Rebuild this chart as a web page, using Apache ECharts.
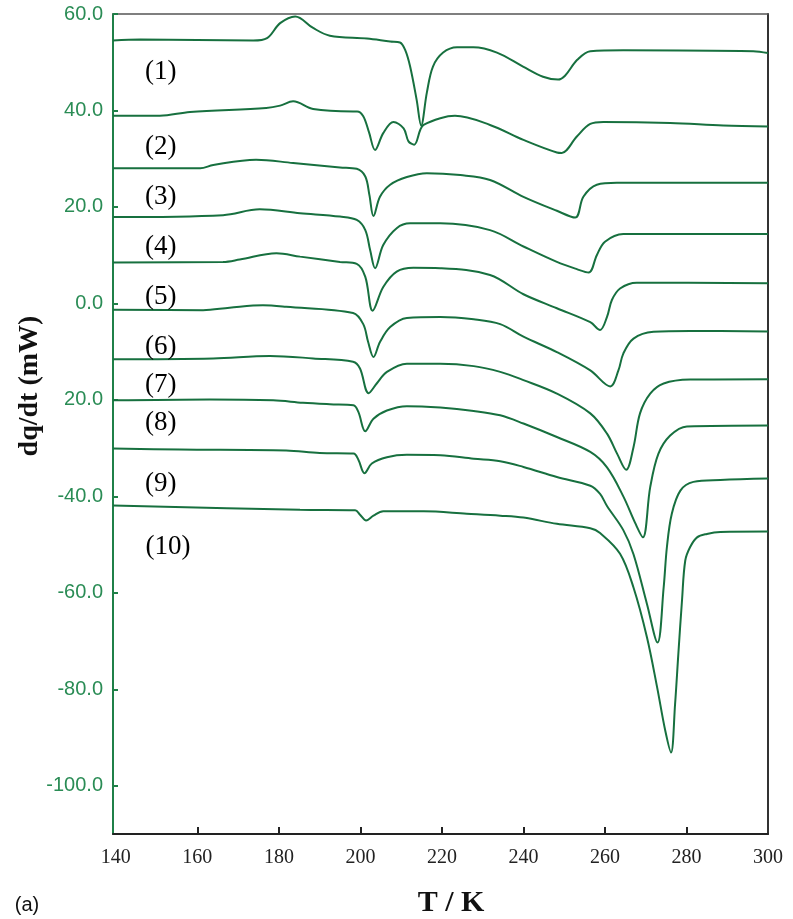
<!DOCTYPE html>
<html>
<head>
<meta charset="utf-8">
<script src="https://cdn.jsdelivr.net/npm/echarts@6/dist/echarts.min.js"></script>
<style>
  html, body { margin: 0; padding: 0; background: #fff; }
  #chart { width: 793px; height: 919px; }
</style>
</head>
<body>
<div id="chart"></div>
<script>
// DSC curves, [T (K), dq/dt (mW)]
const curve1 = [[139.3, 54.5], [146, 54.7], [173.7, 54.5], [177.1, 55.0], [180.3, 58.1], [184, 59.5], [188.4, 57.1], [192.5, 55.5], [201.6, 54.9], [207.3, 54.3], [209.7, 54.1], [211, 52.5], [212.2, 49.1], [213.8, 42.2], [214.9, 36.9], [216.3, 43.7], [217.8, 49.1], [220.3, 52.0], [223.7, 53.1], [227.7, 53.1], [233.5, 52.0], [239.9, 49.1], [244.8, 47.0], [248.5, 46.4], [250.2, 47.2], [253.2, 50.5], [256.4, 52.3], [264.5, 52.5], [296.4, 52.3], [300, 51.9]]
const curve2 = [[139.3, 38.9], [150.8, 38.9], [158.2, 39.7], [176.9, 40.5], [180.3, 41.0], [183.5, 41.9], [188.4, 40.3], [198.2, 39.8], [199.2, 39.8], [200.7, 38.8], [202.1, 35.5], [203.6, 31.8], [205.6, 35.3], [208.1, 37.6], [210.6, 36.3], [211.8, 33.6], [213.2, 32.9], [214.7, 36.0], [215.5, 37.0], [219.6, 38.4], [223.2, 38.9], [231.8, 37.0], [240, 33.9], [248.2, 31.3], [249.4, 31.2], [253.1, 34.6], [256.4, 37.2], [259.6, 37.6], [276, 37.4], [289, 36.9], [300, 36.7]]
const curve3 = [[139.3, 28.0], [160.7, 28.0], [163.9, 28.7], [174.4, 29.8], [183.5, 29.1], [195, 28.2], [199.1, 27.9], [201.2, 26.3], [202.2, 22.5], [203.2, 18.1], [204.8, 22.1], [207.3, 24.6], [211.4, 26.2], [216.3, 27.0], [224.5, 26.6], [231.8, 25.6], [240, 22.1], [248.2, 19.2], [252.7, 17.8], [254.7, 22.1], [258, 24.6], [262.9, 25.0], [300, 25.0]]
const curve4 = [[139.3, 17.9], [166.3, 18.3], [175.3, 19.5], [185.2, 18.7], [195, 18.0], [199.1, 17.3], [201.2, 15.2], [202.4, 11.0], [203.6, 7.3], [205.6, 12.1], [208.9, 15.6], [212.2, 16.6], [219.6, 16.6], [231.8, 15.2], [240, 11.8], [248.2, 8.6], [253.1, 7.1], [256, 6.4], [258, 10.0], [260, 12.8], [264.5, 14.4], [300, 14.4]]
const curve5 = [[139.3, 8.5], [166.3, 8.6], [170.4, 9.1], [179.4, 10.4], [185.2, 9.7], [195, 8.6], [199.1, 8.2], [201.2, 5.5], [203, -1.5], [205.6, 3.4], [208.9, 6.6], [213, 7.4], [219.6, 7.3], [231.8, 5.9], [240, 1.9], [248.2, -1.0], [256.4, -3.9], [258.8, -5.5], [260.5, -2.8], [261.7, 0.7], [263.7, 3.1], [267.8, 4.3], [300, 4.2]]
const curve6 = [[139.3, -1.3], [161.4, -1.4], [167.9, -0.9], [176.1, -0.4], [181.8, -0.7], [198.2, -2.0], [200.7, -4.3], [201.9, -8.0], [203.2, -11.1], [204.8, -8.0], [207.3, -4.9], [211.4, -3.0], [219.6, -2.8], [227.8, -3.3], [234.3, -4.3], [240, -6.9], [248.2, -10.1], [256.4, -13.9], [261.3, -17.2], [263.3, -13.9], [264.5, -10.4], [267, -7.3], [271.9, -5.9], [280.9, -5.7], [300, -5.8]]
const curve7 = [[139.3, -11.6], [163.9, -11.4], [177.8, -10.9], [188.4, -11.4], [198.2, -12.1], [199.9, -13.5], [202, -18.6], [204, -16.6], [206.5, -14.2], [211.4, -12.5], [219.6, -12.5], [227.8, -13.0], [234.3, -14.2], [240, -15.9], [248.2, -18.7], [256.4, -22.8], [260.5, -27.0], [263, -31.2], [265.2, -34.5], [267, -29.8], [268.6, -22.8], [271.1, -18.7], [274.4, -16.6], [280.9, -15.8], [300, -15.7]]
const curve8 = [[139.3, -20.1], [163, -19.9], [178.6, -20.1], [185.9, -20.6], [192.5, -20.9], [198.3, -21.1], [199.5, -22.5], [201.2, -26.5], [203.2, -23.9], [206.5, -22.2], [211.4, -21.3], [219.6, -21.6], [227.8, -22.3], [234.3, -23.2], [240, -24.9], [248.2, -27.7], [256.4, -30.8], [260.5, -34.0], [264.5, -40.0], [267.4, -45.5], [269.3, -48.5], [271.1, -38.1], [273.1, -31.2], [276, -27.4], [280.1, -25.5], [300, -25.3]]
const curve9 = [[139.3, -30.1], [155.7, -30.3], [181.8, -30.5], [190, -31.0], [198.3, -31.1], [199.5, -32.4], [201, -35.2], [202.8, -33.2], [206.5, -31.9], [211.4, -31.4], [219.6, -31.5], [227.8, -32.2], [234.3, -32.7], [240, -33.9], [248.2, -36.0], [256.4, -37.8], [258.8, -39.5], [260.5, -42.0], [264.5, -47.0], [267, -52.0], [270.3, -62.3], [272.9, -70.3], [274.4, -58.9], [275.2, -50.5], [276.4, -43.6], [278.5, -38.8], [281.7, -37.0], [288.3, -36.6], [300, -36.3]]
const curve10 = [[139.3, -41.9], [185.2, -42.8], [198.7, -42.9], [199.9, -43.8], [201.4, -45.0], [203.2, -44.0], [205.6, -43.1], [215.5, -43.1], [226.1, -43.6], [234.3, -44.0], [240, -44.4], [248.2, -45.7], [256.4, -46.6], [258.8, -47.6], [263.7, -51.9], [267, -58.9], [270.3, -69.2], [272.8, -79.6], [274.8, -88.6], [276.2, -93.1], [277.2, -83.1], [278, -72.7], [278.9, -61.6], [279.7, -53.3], [280.9, -50.5], [282.6, -48.5], [285, -47.8], [288.3, -47.4], [300, -47.3]]

const curves = [curve1, curve2, curve3, curve4, curve5, curve6, curve7, curve8, curve9, curve10]

// curve labels and where they sit (data coords)
const labelNames = ['(1)', '(2)', '(3)', '(4)', '(5)', '(6)', '(7)', '(8)', '(9)', '(10)']
const labelPos = [[151, 48.0], [151, 32.5], [151, 22.1], [151, 11.7], [151, 1.4], [151, -9.1], [151, -16.8], [151, -24.7], [151, -37.5], [152.8, -50.4]]

// axis ticks as printed (the -20 tick is printed as "20.0" in the original)
const yTickValues = [-100, -80, -60, -40, -20, 0, 20, 40, 60]
const yTickLabels = ['-100.0', '-80.0', '-60.0', '-40.0', '20.0', '0.0', '20.0', '40.0', '60.0']
const xTickValues = [140, 160, 180, 200, 220, 240, 260, 280, 300]
const xInnerTicks = [160, 180, 200, 220, 240, 260, 280]

const lineColor = '#17703f'
const labelGreen = '#2a8c55'

const chart = echarts.init(document.getElementById('chart'))

const series = curves.map((c, i) => ({
  name: labelNames[i],
  type: 'line',
  data: c,
  showSymbol: false,
  smooth: 0.35,
  lineStyle: { color: lineColor, width: 2 },
  z: 3
}))

series.push({
  type: 'scatter',
  data: labelPos.map((p, i) => ({ value: p, name: labelNames[i] })),
  symbolSize: 1,
  itemStyle: { color: 'rgba(255,255,255,0)' },
  label: {
    show: true,
    position: 'inside',
    formatter: p => p.name,
    fontFamily: 'Liberation Serif',
    fontSize: 27,
    color: '#000',
    opacity: 1,
    textBorderWidth: 0
  },
  silent: true,
  z: 4
})

const option = {
  animation: false,
  backgroundColor: '#fff',
  grid: { left: 113, right: 25, top: 14, bottom: 85 },
  xAxis: [
    {
      type: 'value',
      min: 139.3,
      max: 300,
      position: 'bottom',
      axisLine: { show: true, onZero: false, lineStyle: { color: '#222', width: 2 } },
      axisTick: { show: true, inside: true, length: 7, customValues: xInnerTicks, lineStyle: { color: '#222', width: 2 } },
      axisLabel: {
        customValues: xTickValues,
        margin: 14,
        fontFamily: 'Liberation Serif',
        fontSize: 20,
        color: '#222'
      },
      splitLine: { show: false }
    },
    {
      type: 'value',
      min: 139.3,
      max: 300,
      position: 'top',
      axisLine: { show: true, onZero: false, lineStyle: { color: '#555', width: 1.5 } },
      axisTick: { show: false },
      axisLabel: { show: false },
      splitLine: { show: false }
    }
  ],
  yAxis: [
    {
      type: 'value',
      min: -110,
      max: 60,
      position: 'left',
      axisLine: { show: true, onZero: false, lineStyle: { color: '#1f8048', width: 2 } },
      axisTick: { show: true, inside: true, length: 5, customValues: yTickValues, lineStyle: { color: '#1f8048', width: 2 } },
      axisLabel: {
        customValues: yTickValues,
        formatter: v => yTickLabels[yTickValues.indexOf(v)],
        margin: 10,
        fontFamily: 'Liberation Sans',
        fontSize: 20,
        color: labelGreen
      },
      splitLine: { show: false }
    },
    {
      type: 'value',
      min: -110,
      max: 60,
      position: 'right',
      axisLine: { show: true, onZero: false, lineStyle: { color: '#333', width: 2 } },
      axisTick: { show: false },
      axisLabel: { show: false },
      splitLine: { show: false }
    }
  ],
  graphic: [
    {
      type: 'text',
      x: 30,
      y: 386,
      rotation: Math.PI / 2,
      style: {
        text: 'dq/dt (mW)',
        fontFamily: 'Liberation Serif',
        fontWeight: 'bold',
        fontSize: 28,
        fill: '#111',
        align: 'center',
        verticalAlign: 'middle'
      }
    },
    {
      type: 'text',
      x: 451,
      y: 903,
      style: {
        text: 'T / K',
        fontFamily: 'Liberation Serif',
        fontWeight: 'bold',
        fontSize: 30,
        fill: '#111',
        align: 'center',
        verticalAlign: 'middle'
      }
    },
    {
      type: 'text',
      x: 27,
      y: 905,
      style: {
        text: '(a)',
        fontFamily: 'Liberation Sans',
        fontSize: 20,
        fill: '#111',
        align: 'center',
        verticalAlign: 'middle'
      }
    }
  ],
  series: series
}

chart.setOption(option)
</script>
</body>
</html>
